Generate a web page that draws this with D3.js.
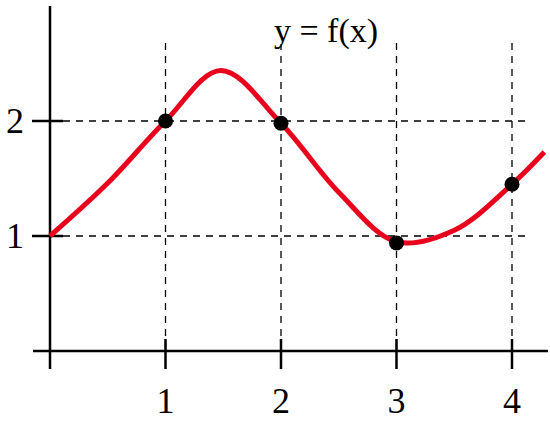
<!DOCTYPE html><html><head><script src="https://cdn.jsdelivr.net/npm/d3@7"></script>
<style>body{margin:0;background:#fff}</style></head><body><svg id="c" width="550" height="421"></svg>
<script>
const xTicks=[1,2,3,4];
const yTicks=[1,2];
const curveX=[0,0.5,1,1.48,2,2.5,3,3.5,4,4.28];
const curveY=[1,1.46,2,2.44,1.98,1.38,0.95,1.05,1.45,1.73];
const dotX=[1,2,3,4];
const dotY=[2,1.98,0.94,1.45];
const title="y = f(x)";
const svg=d3.select("#c");
const x=d3.scaleLinear().domain([0,4]).range([50,512]);
const y=d3.scaleLinear().domain([0,2]).range([351,121]);
const font="'Liberation Serif','DejaVu Serif',serif";
// grid dashed
svg.selectAll(".vg").data(xTicks).join("line").attr("x1",d=>x(d)).attr("x2",d=>x(d)).attr("y1",43).attr("y2",351)
 .attr("stroke","#000").attr("stroke-width",1.3).attr("stroke-dasharray","7,6");
svg.selectAll(".hg").data(yTicks).join("line").attr("x1",50).attr("x2",525).attr("y1",d=>y(d)).attr("y2",d=>y(d))
 .attr("stroke","#000").attr("stroke-width",1.3).attr("stroke-dasharray","7,6");
// axes
svg.append("line").attr("x1",x(0)).attr("x2",x(0)).attr("y1",6).attr("y2",369).attr("stroke","#000").attr("stroke-width",2.5);
svg.append("line").attr("x1",33).attr("x2",548).attr("y1",y(0)).attr("y2",y(0)).attr("stroke","#000").attr("stroke-width",2.5);
svg.selectAll(".xt").data(xTicks).join("line").attr("x1",d=>x(d)).attr("x2",d=>x(d)).attr("y1",y(0)-12).attr("y2",y(0)+18).attr("stroke","#000").attr("stroke-width",2.5);
svg.selectAll(".yt").data(yTicks).join("line").attr("y1",d=>y(d)).attr("y2",d=>y(d)).attr("x1",32).attr("x2",63).attr("stroke","#000").attr("stroke-width",2.5);
svg.selectAll(".xl").data(xTicks).join("text").attr("x",d=>x(d)).attr("y",413).attr("text-anchor","middle")
 .attr("font-family",font).attr("font-size",36).text(d=>d);
svg.selectAll(".yl").data(yTicks).join("text").attr("x",24).attr("y",d=>y(d)+12).attr("text-anchor","end")
 .attr("font-family",font).attr("font-size",36).text(d=>d);
// curve
const pts=curveX.map((v,i)=>[v,curveY[i]]);
svg.append("path").datum(pts).attr("d",d3.line().x(d=>x(d[0])).y(d=>y(d[1])).curve(d3.curveCatmullRom.alpha(0.5)))
 .attr("fill","none").attr("stroke","#e8001c").attr("stroke-width",5);
svg.selectAll(".dot").data(dotX).join("circle").attr("cx",d=>x(d)).attr("cy",(d,i)=>y(dotY[i])).attr("r",7.5).attr("fill","#000");
svg.append("rect").attr("x",255).attr("y",14).attr("width",140).attr("height",30).attr("fill","#fff");
svg.append("text").attr("x",326).attr("y",42).attr("text-anchor","middle").attr("font-family",font).attr("font-size",34).text(title);
</script></body></html>
